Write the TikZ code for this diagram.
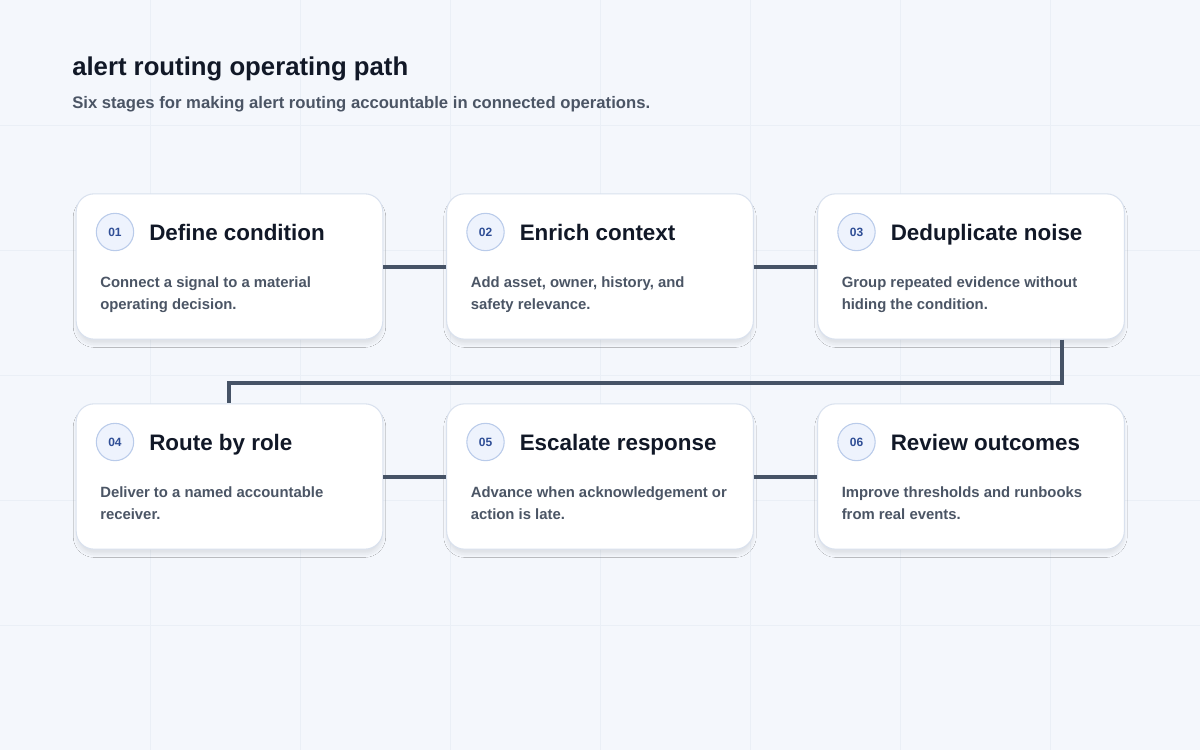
\documentclass[tikz,border=0pt]{standalone}
\usepackage{fontspec}
\setmainfont{Liberation Sans}
\usetikzlibrary{shadows.blur,calc}
\definecolor{bg}{HTML}{F4F7FC}
\definecolor{ink}{HTML}{111827}
\definecolor{sub}{HTML}{4B5565}
\definecolor{conn}{HTML}{465366}
\definecolor{bdr}{HTML}{D9E1EE}
\definecolor{badgef}{HTML}{EEF3FD}
\definecolor{badgeb}{HTML}{B9CBEA}
\definecolor{badget}{HTML}{2F4E96}
\definecolor{grid}{HTML}{EAEFF6}
\begin{document}
\begin{tikzpicture}[x=0.75pt,y=-0.75pt,
  card/.style={draw=bdr,line width=0.8pt,fill=white,rounded corners=13.5pt,minimum width=230pt,minimum height=109pt,inner sep=0pt,blur shadow={shadow blur steps=12,shadow xshift=0pt,shadow yshift=-4pt,shadow opacity=8}},
  badge/.style={circle,draw=badgeb,line width=0.8pt,fill=badgef,minimum size=28pt,inner sep=0pt,font=\bfseries\fontsize{9}{10}\selectfont,text=badget},
  head/.style={anchor=base west,font=\bfseries\fontsize{16.8}{19}\selectfont,text=ink,inner sep=0pt},
  desc/.style={anchor=north west,align=left,font=\bfseries\fontsize{11.15}{16.5}\selectfont,text=sub,inner sep=0pt},
  conn/.style={draw=conn,line width=3pt}]
\useasboundingbox (0,0) rectangle (1200,750);
\fill[bg] (0,0) rectangle (1200,750);
\foreach \x in {150,300,...,1050} \draw[grid,line width=0.6pt] (\x,0) -- (\x,750);
\foreach \y in {125,250,...,625} \draw[grid,line width=0.6pt] (0,\y) -- (1200,\y);
\node[anchor=west,inner sep=0pt,font=\bfseries\fontsize{19.3}{22}\selectfont,text=ink] (title) at (72,69) {alert routing operating path};
\node[anchor=west,inner sep=0pt,font=\bfseries\fontsize{12.5}{14}\selectfont,text=sub] (subtitle) at (72,104) {Six stages for making alert routing accountable in connected operations.};
\foreach \n/\cx/\cy/\num/\h/\d in {
 c1/229.5/266.5/01/Define condition/{Connect a signal to a material\\operating decision.},
 c2/600/266.5/02/Enrich context/{Add asset, owner, history, and\\safety relevance.},
 c3/971/266.5/03/Deduplicate noise/{Group repeated evidence without\\hiding the condition.},
 c4/229.5/476.5/04/Route by role/{Deliver to a named accountable\\receiver.},
 c5/600/476.5/05/Escalate response/{Advance when acknowledgement or\\action is late.},
 c6/971/476.5/06/Review outcomes/{Improve thresholds and runbooks\\from real events.}}{
  \node[card] (\n) at (\cx,\cy) {};
  \node[badge] (\n b) at ($(\n.center)+(-114.5,-34.5)$) {\num};
  \node[head] (\n h) at ($(\n.center)+(-80.5,-26.5)$) {\h};
  \node[desc] (\n d) at ($(\n.center)+(-129.5,9.5)$) {\d};
}
\draw[conn] (c1.east) -- (c2.west);
\draw[conn] (c2.east) -- (c3.west);
\draw[conn] (c4.east) -- (c5.west);
\draw[conn] (c5.east) -- (c6.west);
\coordinate (k1) at (1062,383);
\coordinate (k2) at (229,383);
\draw[conn] (c3.south -| k1) -- (k1) -- (k2) -- (c4.north -| k2);
\end{tikzpicture}
\end{document}
